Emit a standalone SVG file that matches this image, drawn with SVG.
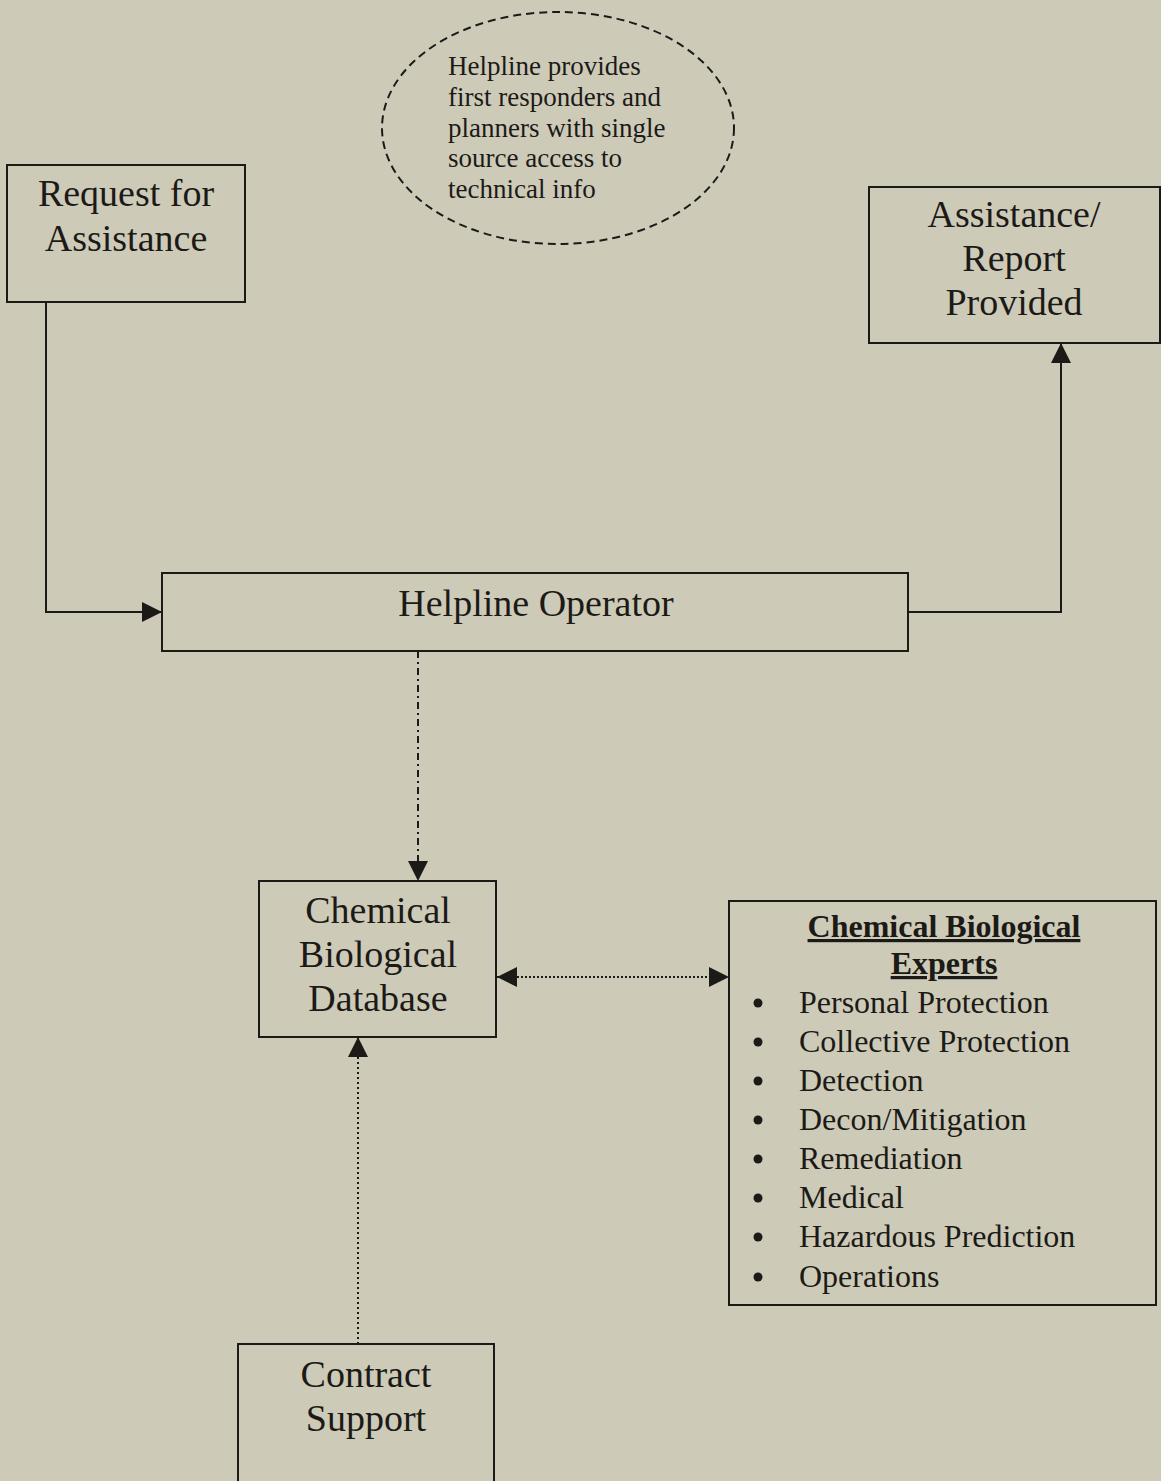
<svg xmlns="http://www.w3.org/2000/svg" width="1161" height="1481" viewBox="0 0 1161 1481">
<style>
.box{fill:none;stroke:#1c1a17;stroke-width:2}
.t{font-family:"Liberation Serif","Times New Roman",serif;fill:#1c1a17;text-anchor:middle}
.big{font-size:38px}
.mid{font-size:32px}
.sm{font-size:27px;text-anchor:start}
.li{font-size:32px;text-anchor:start}
.con{fill:none;stroke:#1c1a17;stroke-width:2}
</style>
<defs>
<marker id="ah" viewBox="0 0 20 20" refX="20" refY="10" markerWidth="20" markerHeight="20" markerUnits="userSpaceOnUse" orient="auto-start-reverse">
<path d="M0,0 L20,10 L0,20 Z" fill="#1c1a17"/>
</marker>
</defs>
<rect width="1161" height="1481" fill="#cdcbb8"/>
<g id="note">
<ellipse cx="558" cy="128" rx="176" ry="116" fill="none" stroke="#1c1a17" stroke-width="2" stroke-dasharray="8 5"/>
<text class="t sm" x="448" y="75">Helpline provides</text>
<text class="t sm" x="448" y="106">first responders and</text>
<text class="t sm" x="448" y="137">planners with single</text>
<text class="t sm" x="448" y="167">source access to</text>
<text class="t sm" x="448" y="198">technical info</text>
</g>
<g id="request">
<rect class="box" x="7" y="165" width="238" height="137"/>
<text class="t big" x="126" y="206">Request for</text>
<text class="t big" x="126" y="251">Assistance</text>
</g>
<g id="provided">
<rect class="box" x="869" y="187" width="291" height="156"/>
<text class="t big" x="1014" y="227">Assistance/</text>
<text class="t big" x="1014" y="271">Report</text>
<text class="t big" x="1014" y="315">Provided</text>
</g>
<g id="operator">
<rect class="box" x="162" y="573" width="746" height="78"/>
<text class="t big" x="536" y="616">Helpline Operator</text>
</g>
<g id="database">
<rect class="box" x="259" y="881" width="237" height="156"/>
<text class="t big" x="378" y="923">Chemical</text>
<text class="t big" x="378" y="967">Biological</text>
<text class="t big" x="378" y="1011">Database</text>
</g>
<g id="experts">
<rect class="box" x="729" y="901" width="427" height="404"/>
<text class="t mid" x="944" y="937" font-weight="bold" text-decoration="underline">Chemical Biological</text>
<text class="t mid" x="944" y="974" font-weight="bold" text-decoration="underline">Experts</text>
<g fill="#1c1a17">
<circle cx="758" cy="1003" r="4.5"/>
<circle cx="758" cy="1042" r="4.5"/>
<circle cx="758" cy="1081" r="4.5"/>
<circle cx="758" cy="1120" r="4.5"/>
<circle cx="758" cy="1159" r="4.5"/>
<circle cx="758" cy="1198" r="4.5"/>
<circle cx="758" cy="1237" r="4.5"/>
<circle cx="758" cy="1277" r="4.5"/>
</g>
<text class="t li" x="799" y="1013">Personal Protection</text>
<text class="t li" x="799" y="1052">Collective Protection</text>
<text class="t li" x="799" y="1091">Detection</text>
<text class="t li" x="799" y="1130">Decon/Mitigation</text>
<text class="t li" x="799" y="1169">Remediation</text>
<text class="t li" x="799" y="1208">Medical</text>
<text class="t li" x="799" y="1247">Hazardous Prediction</text>
<text class="t li" x="799" y="1287">Operations</text>
</g>
<g id="contract">
<rect class="box" x="238" y="1344" width="256" height="150"/>
<text class="t big" x="366" y="1387">Contract</text>
<text class="t big" x="366" y="1431">Support</text>
</g>
<g id="connectors">
<path class="con" d="M46,302 V612 H162" marker-end="url(#ah)"/>
<path class="con" d="M908,612 H1061 V343" marker-end="url(#ah)"/>
<path class="con" d="M418,651 V881" stroke-dasharray="7 4 2 4" marker-end="url(#ah)"/>
<path class="con" d="M497,977 H729" stroke-dasharray="2 2" marker-start="url(#ah)" marker-end="url(#ah)"/>
<path class="con" d="M358,1344 V1037" stroke-width="1.5" stroke-dasharray="2 3" marker-end="url(#ah)"/>
</g>
</svg>
